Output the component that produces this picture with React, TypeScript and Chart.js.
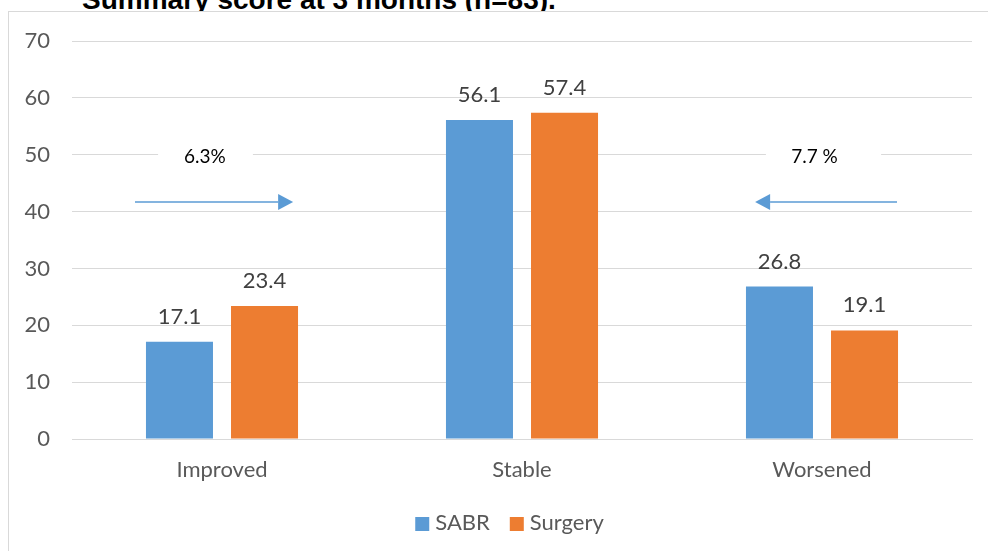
import React, { useEffect, useRef } from "react";
import { Chart, registerables } from "chart.js";

Chart.register(...registerables);

const categories = ["Improved", "Stable", "Worsened"];
const sabrValues = [17.1, 56.1, 26.8];
const surgeryValues = [23.4, 57.4, 19.1];
const seriesNames = ["SABR", "Surgery"];
const yMin = 0;
const yMax = 70;
const yStep = 10;
const changeLabels = ["6.3%", "7.7 %"];
const titleText = "Summary score at 3 months (n=83).";

const BLUE = "#5b9bd5";
const ORANGE = "#ed7d31";
const FONT = "Lato, 'Open Sans', sans-serif";

const dataLabelPlugin = {
  id: "dataLabels",
  afterDatasetsDraw(chart: any) {
    const ctx = chart.ctx;
    ctx.save();
    ctx.font = `22px ${FONT}`;
    ctx.fillStyle = "#404040";
    ctx.textAlign = "center";
    ctx.textBaseline = "alphabetic";
    chart.data.datasets.forEach((ds: any, i: number) => {
      const meta = chart.getDatasetMeta(i);
      meta.data.forEach((el: any, j: number) => {
        ctx.fillText(Number(ds.data[j]).toFixed(1), el.x, el.y - 18);
      });
    });
    ctx.restore();
  },
};

const annotationPlugin = {
  id: "changeAnnotations",
  afterDatasetsDraw(chart: any) {
    const ctx = chart.ctx;
    const xs = chart.scales.x;
    const ys = chart.scales.y;
    const items = [
      { cat: 0, text: changeLabels[0], boxL: -0.213, boxR: 0.103, textX: -0.057, tail: -0.29, tip: 0.237 },
      { cat: 2, text: changeLabels[1], boxL: -0.187, boxR: 0.197, textX: -0.025, tail: 0.25, tip: -0.223 },
    ];
    ctx.save();
    items.forEach((it) => {
      const yText = ys.getPixelForValue(49.6);
      const l = xs.getPixelForValue(it.cat + it.boxL);
      const r = xs.getPixelForValue(it.cat + it.boxR);
      ctx.fillStyle = "#ffffff";
      ctx.fillRect(l, yText - 12, r - l, 24);
      ctx.fillStyle = "#000000";
      ctx.font = `19px ${FONT}`;
      ctx.textAlign = "center";
      ctx.textBaseline = "middle";
      ctx.fillText(it.text, xs.getPixelForValue(it.cat + it.textX), yText);

      const yArrow = ys.getPixelForValue(41.7);
      const x0 = xs.getPixelForValue(it.cat + it.tail);
      const x1 = xs.getPixelForValue(it.cat + it.tip);
      const dir = x1 > x0 ? 1 : -1;
      const headLen = 15;
      ctx.strokeStyle = BLUE;
      ctx.lineWidth = 1.5;
      ctx.beginPath();
      ctx.moveTo(x0, yArrow);
      ctx.lineTo(x1 - dir * headLen, yArrow);
      ctx.stroke();
      ctx.fillStyle = BLUE;
      ctx.beginPath();
      ctx.moveTo(x1, yArrow);
      ctx.lineTo(x1 - dir * headLen, yArrow - 8);
      ctx.lineTo(x1 - dir * headLen, yArrow + 8);
      ctx.closePath();
      ctx.fill();
    });
    ctx.restore();
  },
};

const legendPlugin = {
  id: "bottomLegend",
  afterDraw(chart: any) {
    const ctx = chart.ctx;
    ctx.save();
    ctx.font = `22px ${FONT}`;
    const box = 14;
    const gapText = 6;
    const gapItem = 20;
    const items = chart.data.datasets.map((ds: any) => ({
      label: ds.label,
      color: ds.backgroundColor,
      w: box + gapText + ctx.measureText(ds.label).width,
    }));
    const total = items.reduce((a: number, it: any) => a + it.w, 0) + gapItem * (items.length - 1);
    let x = 500.5 - total / 2;
    const cy = chart.height - 27;
    items.forEach((it: any) => {
      ctx.fillStyle = it.color;
      ctx.fillRect(x, cy - box / 2, box, box);
      ctx.fillStyle = "#595959";
      ctx.textAlign = "left";
      ctx.textBaseline = "middle";
      ctx.fillText(it.label, x + box + gapText, cy - 1);
      x += it.w + gapItem;
    });
    ctx.restore();
  },
};

function BarChart() {
  const canvasRef = useRef<HTMLCanvasElement | null>(null);
  useEffect(() => {
    if (!canvasRef.current) return;
    const chart = new Chart(canvasRef.current, {
      type: "bar",
      data: {
        labels: categories,
        datasets: [
          {
            label: seriesNames[0],
            data: sabrValues,
            backgroundColor: BLUE,
            categoryPercentage: 0.567,
            barPercentage: 0.788,
          },
          {
            label: seriesNames[1],
            data: surgeryValues,
            backgroundColor: ORANGE,
            categoryPercentage: 0.567,
            barPercentage: 0.788,
          },
        ],
      },
      options: {
        animation: false,
        responsive: false,
        maintainAspectRatio: false,
        layout: { padding: { left: 0, right: 16, top: 29, bottom: 48 } },
        plugins: {
          tooltip: { enabled: false },
          title: { display: false },
          legend: { display: false },
        },
        scales: {
          x: {
            grid: { display: false, drawTicks: false },
            border: { color: "#d9d9d9", width: 1 },
            ticks: { color: "#595959", font: { family: FONT, size: 22 }, padding: 18 },
            afterFit: (s: any) => {
              s.height = 64;
            },
          },
          y: {
            min: yMin,
            max: yMax,
            ticks: { stepSize: yStep, color: "#595959", font: { family: FONT, size: 22 }, padding: 0 },
            grid: { color: "#d9d9d9", drawTicks: true, tickLength: 22, tickColor: "rgba(0,0,0,0)", lineWidth: 1 },
            border: { display: false },
            afterFit: (s: any) => {
              s.width = 63;
            },
          },
        },
      },
      plugins: [dataLabelPlugin, annotationPlugin, legendPlugin],
    } as any);
    return () => chart.destroy();
  }, []);
  return <canvas ref={canvasRef} width={979} height={539} style={{ display: "block" }} />;
}

export default function App() {
  return (
    <div style={{ position: "absolute", left: 0, top: 0, width: 988, height: 551, overflow: "hidden", background: "#fff" }}>
      <div
        style={{
          position: "absolute",
          left: 82,
          top: -14,
          fontFamily: "'Liberation Sans', Arial, sans-serif",
          fontWeight: "bold",
          fontSize: 28,
          lineHeight: "28px",
          whiteSpace: "nowrap",
          color: "#000",
        }}
      >
        {titleText}
      </div>
      <div
        style={{
          position: "absolute",
          left: 8,
          top: 11,
          width: 990,
          height: 560,
          border: "1px solid #d9d9d9",
          background: "#fff",
        }}
      >
        <BarChart />
      </div>
    </div>
  );
}
